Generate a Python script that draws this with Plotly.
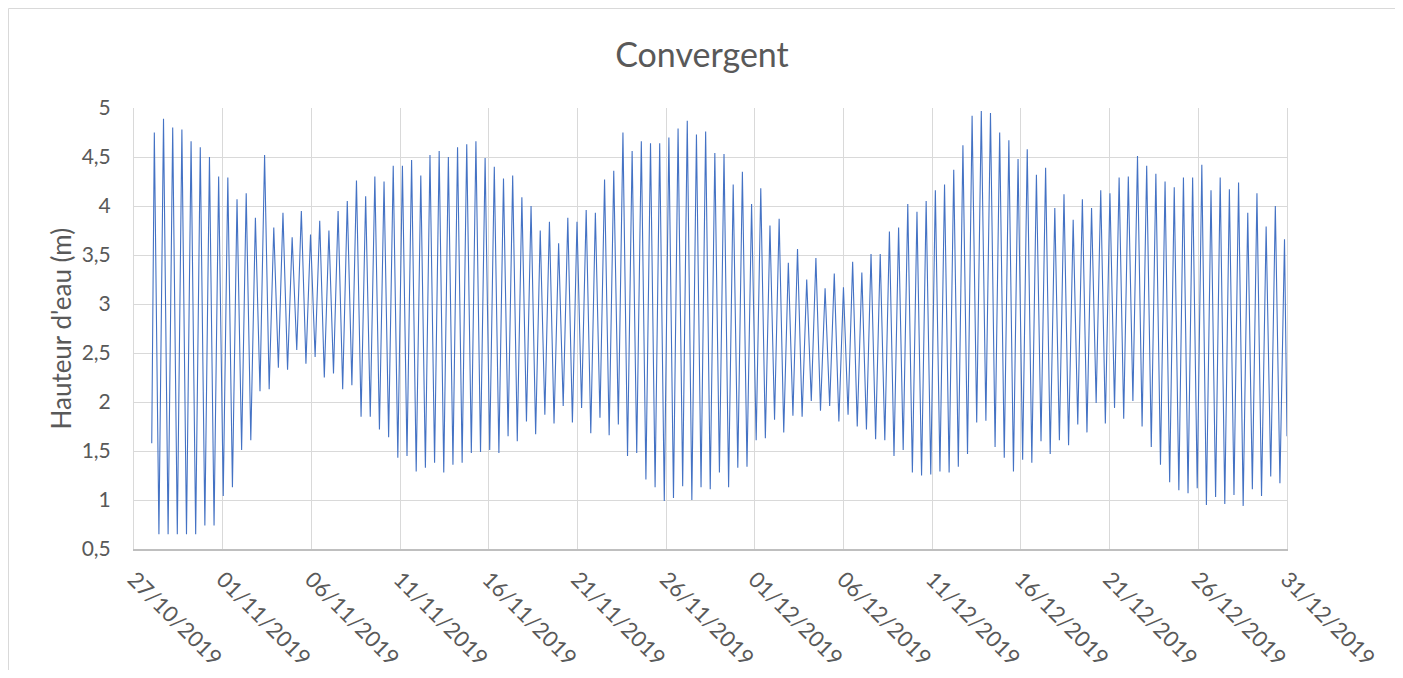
import pandas as pd
import plotly.graph_objects as go

# ---- data ----
title_text = "Convergent"
y_title = "Hauteur d'eau (m)"

start_time = "2019-10-28 00:00"
start_level = 1.58
first_extreme_time = "2019-10-28 03:30"
half_tide_hours = 6.216          # spacing between successive high / low waters
end_time = "2019-12-31 00:00"
end_level = 1.65

# successive high / low water heights (m), in time order
extremes_week1 = [4.75, 0.65, 4.89, 0.65, 4.80, 0.65, 4.78, 0.65, 4.66, 0.65, 4.60, 0.74, 4.50, 0.74,
                  4.30, 1.04, 4.29, 1.13, 4.07, 1.51, 4.13, 1.61, 3.88, 2.11, 4.52]
extremes_week2 = [2.13, 3.78, 2.35, 3.93, 2.33, 3.68, 2.53, 3.95, 2.39, 3.71, 2.46, 3.85, 2.25, 3.75,
                  2.29, 3.95, 2.13, 4.05, 2.17, 4.26, 1.85, 4.10, 1.85, 4.30, 1.72, 4.25, 1.64]
extremes_week3 = [4.41, 1.43, 4.41, 1.45, 4.47, 1.29, 4.31, 1.33, 4.52, 1.38, 4.56, 1.28, 4.50, 1.36,
                  4.60, 1.38, 4.63, 1.48, 4.66, 1.49, 4.49, 1.51, 4.40, 1.48, 4.28, 1.65, 4.31]
extremes_week4 = [1.60, 4.09, 1.80, 4.00, 1.67, 3.75, 1.87, 3.84, 1.78, 3.62, 1.96, 3.88, 1.79, 3.84,
                  1.94, 3.96, 1.68, 3.93, 1.84, 4.27, 1.66, 4.36, 1.77, 4.75, 1.45, 4.56, 1.48]
extremes_week5 = [4.66, 1.21, 4.64, 1.13, 4.64, 0.99, 4.70, 1.02, 4.79, 1.14, 4.87, 1.00, 4.73, 1.13,
                  4.76, 1.11, 4.54, 1.28, 4.53, 1.13, 4.22, 1.33, 4.35, 1.34, 4.02, 1.61, 4.18, 1.63]
extremes_week6 = [3.80, 1.82, 3.87, 1.69, 3.42, 1.86, 3.56, 1.85, 3.25, 2.01, 3.47, 1.91, 3.16, 1.96,
                  3.31, 1.80, 3.17, 1.87, 3.43, 1.75, 3.32, 1.72, 3.51, 1.62, 3.51, 1.61, 3.74]
extremes_week7 = [1.45, 3.78, 1.51, 4.02, 1.28, 3.94, 1.25, 4.05, 1.26, 4.16, 1.29, 4.22, 1.28, 4.37,
                  1.34, 4.62, 1.47, 4.92, 1.79, 4.97, 1.81, 4.95, 1.54, 4.75, 1.43, 4.67, 1.29]
extremes_week8 = [4.48, 1.41, 4.58, 1.38, 4.32, 1.60, 4.39, 1.47, 3.98, 1.61, 4.12, 1.56, 3.86, 1.77,
                  4.07, 1.69, 3.98, 1.99, 4.16, 1.78, 4.13, 1.94, 4.29, 1.83, 4.30, 2.01, 4.51]
extremes_week9 = [1.75, 4.41, 1.54, 4.33, 1.36, 4.25, 1.18, 4.19, 1.10, 4.29, 1.07, 4.29, 1.12, 4.42,
                  0.95, 4.16, 1.03, 4.29, 0.96, 4.17, 1.05, 4.24, 0.94, 3.93, 1.11, 4.13, 1.04, 3.79,
                  1.24, 4.00, 1.17, 3.66]

x_tick_start = "2019-10-27"
x_tick_end = "2019-12-31"
x_tick_step_days = 5

# ---- build series ----
extremes = (extremes_week1 + extremes_week2 + extremes_week3 + extremes_week4 + extremes_week5
            + extremes_week6 + extremes_week7 + extremes_week8 + extremes_week9)
t_first = pd.Timestamp(first_extreme_time)
times = [pd.Timestamp(start_time)]
times += [t_first + pd.Timedelta(hours=half_tide_hours * i) for i in range(len(extremes))]
times.append(pd.Timestamp(end_time))
levels = [start_level] + extremes + [end_level]

tickvals = pd.date_range(x_tick_start, x_tick_end, freq=f"{x_tick_step_days}D")
ticktext = [d.strftime("%d/%m/%Y") for d in tickvals]

FONT = "Lato"
GREY = "#595959"
GRID = "#d9d9d9"

fig = go.Figure()
fig.add_trace(go.Scatter(x=times, y=levels, mode="lines",
                         line=dict(color="#4472C4", width=1.1), showlegend=False))

# page body has an 8px margin, so the figure is drawn offset by (8, 8)
OFF = 8
W, H = 1403 - 2 * OFF, 678 - 2 * OFF
L, R, T, B = 134 - OFF, W - (1287 - OFF), 108 - OFF, H - (549 - OFF)
pw, ph = W - L - R, H - T - B

fig.update_layout(
    width=W, height=H,
    margin=dict(l=L, r=R, t=T, b=B, autoexpand=False),
    paper_bgcolor="white", plot_bgcolor="white",
    separators=", ",
    font=dict(family=FONT, color=GREY),
    title=dict(text=title_text, x=(702 - OFF) / W, xref="container", xanchor="center",
               y=1 - (55 - OFF) / H, yref="container", yanchor="middle",
               font=dict(family=FONT, size=34, color=GREY)),
    xaxis=dict(type="date", range=[x_tick_start, x_tick_end],
               tickmode="array", tickvals=tickvals, ticktext=ticktext,
               tickangle=45, tickfont=dict(size=22, color=GREY),
               showgrid=True, gridcolor=GRID, gridwidth=1,
               showline=True, linecolor="#bfbfbf", linewidth=1.5,
               ticks="", ticklabelstandoff=7, zeroline=False, automargin=False),
    yaxis=dict(range=[0.5, 5], dtick=0.5, tick0=0.5,
               tickfont=dict(size=21, color=GREY),
               showgrid=True, gridcolor=GRID, gridwidth=1,
               showline=True, linecolor=GRID, mirror=True,
               ticks="", ticklabelstandoff=18, zeroline=False, automargin=False),
    annotations=[dict(text=y_title, textangle=-90, xref="paper", yref="paper",
                      x=(60 - 134) / pw, y=0.5, xanchor="center", yanchor="middle",
                      showarrow=False, font=dict(family=FONT, size=26, color=GREY))],
    shapes=[dict(type="rect", xref="paper", yref="paper",
                 x0=(8.5 - 134) / pw, x1=(1397 - 134) / pw,
                 y0=(549 - 700) / ph, y1=(549 - 8.5) / ph,
                 line=dict(color=GRID, width=1), fillcolor="rgba(0,0,0,0)", layer="below")],
)

fig.write_html("out.html")
